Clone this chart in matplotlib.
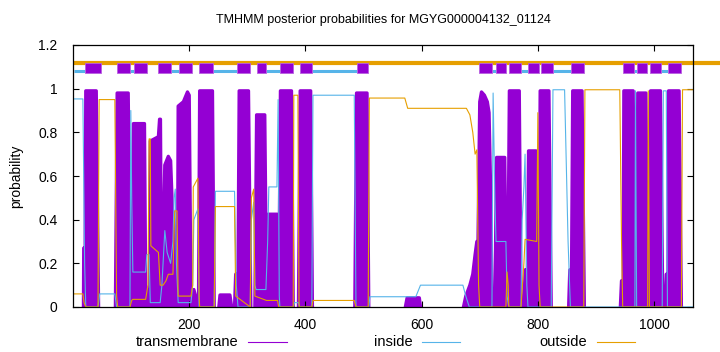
import matplotlib
matplotlib.use("Agg")
import matplotlib.pyplot as plt
from matplotlib.lines import Line2D

title = "TMHMM posterior probabilities for MGYG000004132_01124"
seq_len = 1067

# transmembrane posterior (breakpoints: residue, probability)
tm_x = [0, 18, 18.5, 21, 22, 40, 44,
        73, 76, 95, 99,
        101, 104, 123, 125, 130,
        132, 133, 147, 149, 150.5, 152, 154,
        156, 158, 164, 168, 171, 174, 177, 180,
        181, 190, 197, 200, 203, 208, 212, 216,
        218, 240, 243,
        251, 253, 270, 273,
        278, 280, 284, 286, 302, 306,
        313, 316, 330, 333, 335, 336, 351, 353,
        354, 357, 376, 379,
        388, 391, 409, 412,
        485, 488, 506, 509,
        572, 575, 596, 598,
        672, 676, 683, 688, 692, 695, 697,
        700, 703, 708, 713, 716, 719, 721,
        726, 729, 743, 746,
        748, 751, 768, 771,
        776, 778, 782, 784, 797, 800,
        802, 804, 819, 823,
        853, 855, 858, 860, 876, 880,
        942, 944, 947, 948, 964, 968,
        969, 972, 986, 989,
        990, 994, 1011, 1015,
        1019, 1021, 1024, 1025, 1043, 1047,
        1067]
tm_y = [0, 0, 0.27, 0.27, 0.99, 0.99, 0,
        0, 0.98, 0.98, 0,
        0, 0.84, 0.84, 0.1, 0.05,
        0, 0.76, 0.78, 0.86, 0.86, 0.2, 0.2,
        0.4, 0.65, 0.69, 0.67, 0.45, 0.4, 0.25, 0.2,
        0.92, 0.94, 0.985, 0.97, 0.05, 0.08, 0.04, 0,
        0.99, 0.99, 0,
        0, 0.055, 0.055, 0,
        0, 0.15, 0.15, 0.99, 0.99, 0,
        0, 0.88, 0.88, 0.1, 0.1, 0.425, 0.425, 0,
        0, 0.99, 0.99, 0,
        0, 0.99, 0.99, 0,
        0, 0.98, 0.98, 0,
        0, 0.042, 0.042, 0,
        0, 0.05, 0.1, 0.15, 0.24, 0.3, 0.3,
        0.94, 0.985, 0.97, 0.94, 0.89, 0.5, 0,
        0, 0.685, 0.685, 0,
        0, 0.99, 0.99, 0,
        0, 0.17, 0.17, 0.715, 0.715, 0.1,
        0.1, 0.99, 0.99, 0,
        0, 0.17, 0.17, 0.99, 0.99, 0,
        0, 0.12, 0.12, 0.99, 0.99, 0,
        0, 0.98, 0.98, 0,
        0, 0.99, 0.99, 0,
        0, 0.15, 0.15, 0.99, 0.99, 0,
        0]

# inside posterior
in_x = [0, 17, 20, 22, 43, 46, 72, 75, 98, 99.5, 101, 103, 125, 127, 131, 133, 150, 153,
        158, 162, 168, 172, 174, 176, 178, 181, 203, 206, 208, 215, 217, 243, 245, 278, 281,
        284, 305, 307, 311, 313, 315, 332, 335, 337, 351, 353, 355, 356, 379, 381, 388, 390,
        411, 413, 484, 487, 509, 511, 590, 598, 671, 676, 682, 721, 723, 726, 728, 745, 747,
        750, 771, 773, 776, 778, 781, 783, 823, 826, 846, 852, 856, 967, 968, 970, 1014,
        1016, 1021, 1023, 1067]
in_y = [0.953, 0.953, 0.2, 0, 0, 0.06, 0.06, 0, 0, 0.9, 0.5, 0.16, 0.16, 0.24, 0.24, 0.02, 0.02, 0.1,
        0.35, 0.25, 0.2, 0.3, 0.5, 0.54, 0.2, 0.02, 0.02, 0.1, 0.4, 0.45, 0, 0, 0.53, 0.53, 0.1,
        0, 0, 0.4, 0.48, 0.1, 0.08, 0.08, 0.3, 0.55, 0.55, 0.95, 0.05, 0, 0, 0.02, 0.02, 0,
        0, 0.97, 0.97, 0, 0, 0.047, 0.047, 0.10, 0.10, 0.05, 0, 0, 0.98, 0.5, 0.3, 0.3, 0.05,
        0, 0, 0.4, 0.55, 0.70, 0.1, 0, 0, 0.995, 0.995, 0.3, 0, 0, 0.99, 0, 0,
        0.99, 0.99, 0, 0]

# outside posterior
out_x = [0, 17, 19, 22, 43, 45, 72, 75, 77, 98, 101, 103, 125, 129, 131, 133, 134, 147, 150,
         155, 160, 164, 172, 175, 179, 181, 203, 206, 207, 215, 217, 218, 243, 245, 278, 280,
         305, 307, 311, 313, 333, 336, 352, 354, 379, 380, 387, 389, 411, 413, 484, 487, 508,
         510, 571, 576, 677, 683, 688, 692, 695, 698, 700, 745, 747, 749, 750, 771, 776, 778,
         798, 800, 802, 804, 879, 881, 941, 944, 946, 989, 990, 992, 1047, 1049, 1067]
out_y = [0.06, 0.06, 0.02, 0, 0, 0.95, 0.95, 0.05, 0, 0, 0.03, 0.035, 0.035, 0.1, 0.77, 0.77, 0.28, 0.25, 0.1,
         0.1, 0.12, 0.15, 0.15, 0.44, 0.44, 0.05, 0.05, 0.1, 0.55, 0.59, 0.05, 0, 0, 0.46, 0.46, 0.05,
         0, 0.5, 0.54, 0.05, 0.03, 0.03, 0.03, 0, 0, 0.97, 0.97, 0, 0, 0.03, 0.03, 0, 0,
         0.957, 0.957, 0.91, 0.91, 0.88, 0.8, 0.70, 0.72, 0.1, 0, 0, 0.16, 0.1, 0, 0, 0.2, 0.31,
         0.3, 0.89, 0.1, 0, 0, 0.995, 0.995, 0.3, 0, 0, 0.99, 0, 0, 0.995, 0.995]

# predicted topology bar
tm_start = [21, 76, 105, 147, 183, 217, 283, 316, 357, 390, 488, 698, 728, 750, 783, 805, 857, 947, 971, 993, 1024]
tm_end = [48, 98, 128, 169, 205, 241, 305, 333, 379, 412, 507, 721, 745, 771, 802, 826, 879, 966, 988, 1012, 1047]
in_start = [1, 98, 169, 241, 333, 412, 721, 771, 826, 966, 1012]
in_end = [21, 105, 183, 283, 357, 488, 728, 783, 857, 971, 1024]

purple = "#9400D3"
blue = "#56B4E9"
orange = "#E69F00"

plt.rcParams["font.family"] = ["Liberation Sans", "DejaVu Sans"]
plt.rcParams["font.size"] = 10

fig = plt.figure(figsize=(7.2, 3.52), dpi=100)
ax = fig.add_axes([73 / 720, 45 / 352, 620 / 720, 262 / 352])

ax.fill_between(tm_x, tm_y, 0, color=purple, lw=0)
# outline for the thick-impulse look, broken where the curve lies flat on zero
ox, oy = [], []
for i in range(len(tm_x)):
    if i > 0 and tm_y[i] == 0 and tm_y[i - 1] == 0:
        ox.append(float("nan"))
        oy.append(float("nan"))
    ox.append(tm_x[i])
    oy.append(tm_y[i])
ax.plot(ox, oy, color=purple, lw=2.4, solid_joinstyle="round", solid_capstyle="round")
ax.plot(in_x, in_y, color=blue, lw=0.8)
ax.plot(out_x, out_y, color=orange, lw=0.8)

# topology bar
ax.plot([0, 1300], [1.117, 1.117], color=orange, lw=3, clip_on=False, solid_capstyle="butt")
ax.hlines([1.079] * len(in_start), in_start, in_end, color=blue, lw=2.2)
ax.bar(tm_start, 0.045, width=[e - s for s, e in zip(tm_start, tm_end)], bottom=1.073,
       align="edge", color=purple, edgecolor="#b860e0", lw=0.6, zorder=3)

ax.set_xlim(0, seq_len)
ax.set_ylim(0, 1.2)
ax.set_xticks([200, 400, 600, 800, 1000])
ax.set_yticks([0, 0.2, 0.4, 0.6, 0.8, 1.0, 1.2])
ax.set_yticklabels(["0", "0.2", "0.4", "0.6", "0.8", "1", "1.2"])
ax.tick_params(direction="in", length=4, width=0.8, top=True, right=True, labelsize=10)
ax.tick_params(axis="y", pad=11)
ax.tick_params(axis="x", pad=8)
for s in ax.spines.values():
    s.set_linewidth(0.9)
    s.set_zorder(5)
fig.text((73 + 693) / 2 / 720, (352 - 20) / 352, title, ha="center", va="center", fontsize=9)
fig.text(16 / 720, (352 - 176) / 352, "probability", rotation=90, ha="center", va="center", fontsize=10)

# legend (gnuplot style: text then sample)
ly = (352 - 342) / 352
for label, col, tx, l0, l1 in [("transmembrane", purple, 238, 248, 287),
                                ("inside", blue, 413, 422, 460),
                                ("outside", orange, 587, 597, 635)]:
    fig.text(tx / 720, ly, label, ha="right", va="center", fontsize=10.5)
    fig.add_artist(Line2D([l0 / 720, l1 / 720], [ly, ly], color=col, lw=0.8, transform=fig.transFigure))

fig.savefig("out.png", dpi=100)
